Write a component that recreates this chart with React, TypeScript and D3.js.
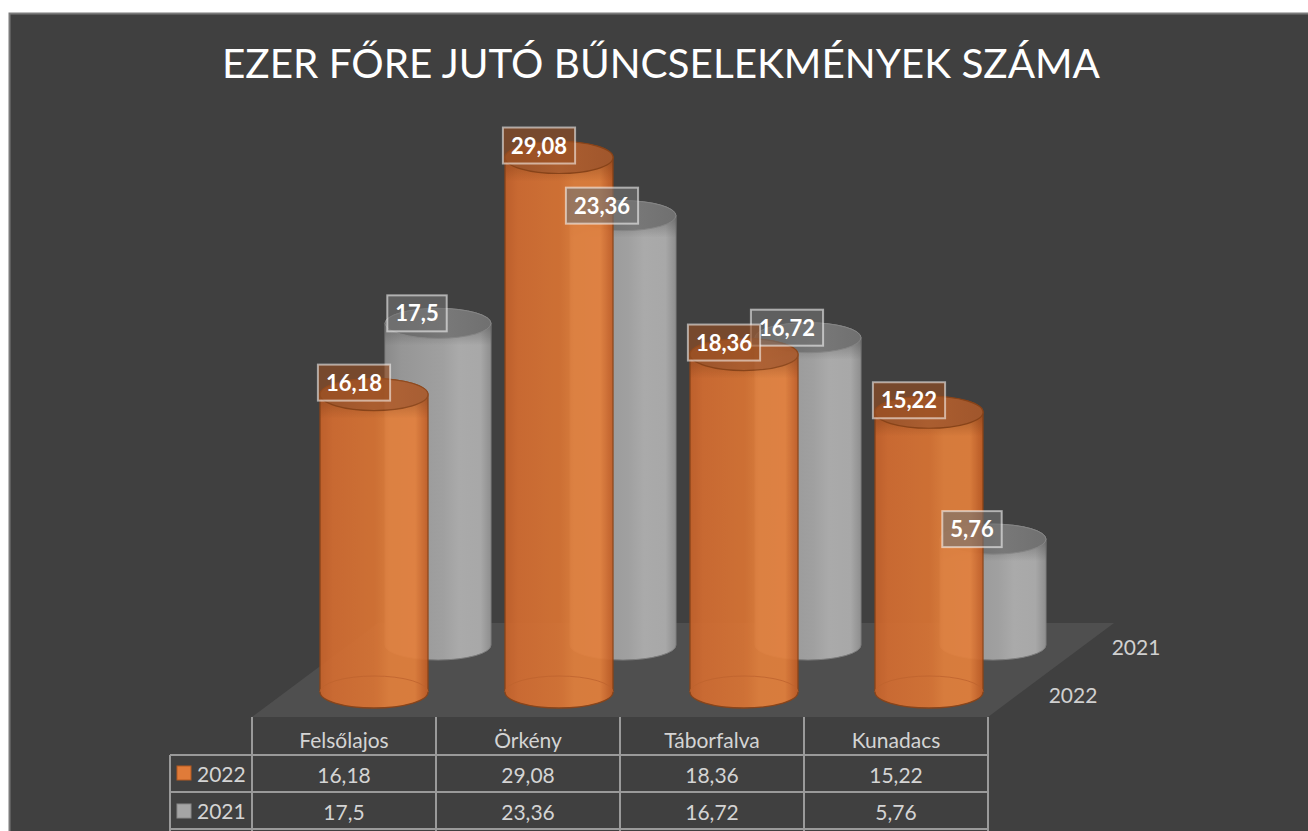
import React from "react";
import * as d3 from "d3";

const categories = ["Felsőlajos", "Örkény", "Táborfalva", "Kunadacs"];
const series2022 = [16.18, 29.08, 18.36, 15.22];
const series2021 = [17.5, 23.36, 16.72, 5.76];
const seriesNames = ["2022", "2021"];
const title = "EZER FŐRE JUTÓ BŰNCSELEKMÉNYEK SZÁMA";

const fmt = (v: number) => String(v).replace(".", ",");

function measure(text: string, font: string): number {
  if (typeof document === "undefined") return text.length * 12;
  const c = document.createElement("canvas");
  const ctx = c.getContext("2d");
  if (!ctx) return text.length * 12;
  ctx.font = font;
  return ctx.measureText(text).width;
}

const W = 1308;
const H = 831;

export default function App() {
  const xFront = d3.scalePoint<string>().domain(categories).range([374, 929]);
  const xCol = d3.scaleBand<string>().domain(categories).range([252, 988]);
  const yVal = d3.scaleLinear().domain([0, 30]).range([0, 551.4]);

  const depth = { dx: 64, dy: -47 };
  const frontBase = 692;
  const backBase = frontBase + depth.dy;

  const floor = [
    [252, 717],
    [988, 717],
    [1114, 623],
    [378, 623],
  ];

  const cyl = (cx: number, base: number, h: number, rx: number, ry: number) => {
    const t = base - h;
    return {
      body: `M${cx - rx},${t} L${cx - rx},${base} A${rx},${ry} 0 0 0 ${cx + rx},${base} L${cx + rx},${t} A${rx},${ry} 0 0 0 ${cx - rx},${t} Z`,
      backArc: `M${cx - rx},${base} A${rx},${ry} 0 0 1 ${cx + rx},${base}`,
      top: t,
    };
  };

  const labelFont = "bold 22px Lato";
  const labels: { x: number; y: number; text: string; kind: string }[] = [];

  const back = categories.map((c, i) => {
    const cx = (xFront(c) as number) + depth.dx;
    const g = cyl(cx, backBase, yVal(series2021[i]), 53, 15);
    labels.push({ x: cx - 21, y: g.top - 10, text: fmt(series2021[i]), kind: "g" });
    return (
      <g key={"b" + c}>
        <path d={g.body} fill="url(#grayBody)" stroke="#7e7e7e" strokeWidth={1} />
        <rect x={cx - 53} y={g.top} width={106} height={22} fill="url(#grayShadow)" />
        <ellipse cx={cx} cy={g.top} rx={53} ry={15} fill="url(#grayTop)" stroke="#858585" strokeWidth={1} />
      </g>
    );
  });

  const front = categories.map((c, i) => {
    const cx = xFront(c) as number;
    const g = cyl(cx, frontBase, yVal(series2022[i]), 54, 16);
    labels.push({ x: cx - 20, y: g.top - 12, text: fmt(series2022[i]), kind: "o" });
    return (
      <g key={"f" + c} opacity={0.92}>
        <path d={g.body} fill="url(#orangeBody)" stroke="#8e4416" strokeWidth={1.3} />
        <path d={g.backArc} fill="none" stroke="#c8652c" strokeWidth={1} opacity={0.8} />
        <rect x={cx - 54} y={g.top} width={108} height={24} fill="url(#orangeShadow)" />
        <ellipse cx={cx} cy={g.top} rx={54} ry={16} fill="url(#orangeTop)" stroke="#8e4416" strokeWidth={1.2} />
      </g>
    );
  });

  const rowY = [717, 755, 792, 829];
  const tableText = "#d4d4d4";
  const gridColor = "#9a9a9a";

  return (
    <svg
      width={W}
      height={H}
      style={{ position: "absolute", left: 0, top: 0 }}
      xmlns="http://www.w3.org/2000/svg"
    >
      <defs>
        <linearGradient id="orangeBody" x1="0" x2="1" y1="0" y2="0">
          <stop offset="0" stopColor="#c8632b" />
          <stop offset="0.12" stopColor="#d46d31" />
          <stop offset="0.5" stopColor="#d97434" />
          <stop offset="0.64" stopColor="#e3803c" />
          <stop offset="0.88" stopColor="#e4803c" />
          <stop offset="1" stopColor="#c25c24" />
        </linearGradient>
        <linearGradient id="orangeTop" x1="0" x2="1" y1="0" y2="0">
          <stop offset="0" stopColor="#a2562a" />
          <stop offset="0.5" stopColor="#b4612f" />
          <stop offset="1" stopColor="#a9592b" />
        </linearGradient>
        <linearGradient id="orangeShadow" x1="0" x2="0" y1="0" y2="1">
          <stop offset="0" stopColor="#7a3a14" stopOpacity="0.5" />
          <stop offset="1" stopColor="#7a3a14" stopOpacity="0" />
        </linearGradient>
        <linearGradient id="grayBody" x1="0" x2="1" y1="0" y2="0">
          <stop offset="0" stopColor="#8a8a8a" />
          <stop offset="0.15" stopColor="#969696" />
          <stop offset="0.55" stopColor="#a0a0a0" />
          <stop offset="0.7" stopColor="#aaaaaa" />
          <stop offset="0.9" stopColor="#a8a8a8" />
          <stop offset="1" stopColor="#8e8e8e" />
        </linearGradient>
        <linearGradient id="grayTop" x1="0" x2="1" y1="0" y2="0">
          <stop offset="0" stopColor="#686868" />
          <stop offset="0.6" stopColor="#787878" />
          <stop offset="1" stopColor="#707070" />
        </linearGradient>
        <linearGradient id="grayShadow" x1="0" x2="0" y1="0" y2="1">
          <stop offset="0" stopColor="#444" stopOpacity="0.45" />
          <stop offset="1" stopColor="#444" stopOpacity="0" />
        </linearGradient>
      </defs>

      <rect x={0} y={0} width={W} height={H} fill="#ffffff" />
      <rect x={9} y={13} width={W} height={H} fill="#404040" />
      <path d={`M9.5,${H} L9.5,13.5 L${W},13.5`} fill="none" stroke="#7a7a7a" strokeWidth={2} />

      <text
        x={661}
        y={78}
        textAnchor="middle"
        fill="#ffffff"
        fontFamily="Lato, 'Open Sans', sans-serif"
        fontSize={41}
        textLength={878}
        lengthAdjust="spacingAndGlyphs"
      >
        {title}
      </text>

      <polygon points={floor.map((p) => p.join(",")).join(" ")} fill="#4f4f4f" />

      {back}
      {front}

      {labels.map((l, i) => {
        const tw = measure(l.text, labelFont);
        const bw = tw + 16;
        const bh = 36;
        return (
          <g key={"l" + i}>
            <rect
              x={l.x - bw / 2}
              y={l.y - bh / 2}
              width={bw}
              height={bh}
              fill={l.kind === "o" ? "#9a4f22" : "#727272"}
              fillOpacity={0.62}
              stroke="#ffffff"
              strokeOpacity={0.55}
              strokeWidth={2}
            />
            <text
              x={l.x}
              y={l.y + 8}
              textAnchor="middle"
              fill="#ffffff"
              fontFamily="Lato, sans-serif"
              fontWeight="bold"
              fontSize={22}
            >
              {l.text}
            </text>
          </g>
        );
      })}

      <text x={1136} y={655} textAnchor="middle" fill="#d0d0d0" fontFamily="Lato, sans-serif" fontSize={21}>
        {seriesNames[1]}
      </text>
      <text x={1073} y={703} textAnchor="middle" fill="#d0d0d0" fontFamily="Lato, sans-serif" fontSize={21}>
        {seriesNames[0]}
      </text>

      <g fontFamily="Lato, sans-serif" fontSize={21} fill={tableText}>
        {categories.map((c) => (
          <line
            key={"v" + c}
            x1={xCol(c) as number}
            x2={xCol(c) as number}
            y1={717}
            y2={H}
            stroke={gridColor}
            strokeWidth={2}
          />
        ))}
        <line x1={988} x2={988} y1={717} y2={H} stroke={gridColor} strokeWidth={2} />
        <line x1={170} x2={170} y1={755} y2={H} stroke={gridColor} strokeWidth={2} />
        {rowY.slice(1).map((y) => (
          <line key={"h" + y} x1={170} x2={988} y1={y} y2={y} stroke={gridColor} strokeWidth={2} />
        ))}
        {categories.map((c, i) => {
          const cx = (xCol(c) as number) + xCol.bandwidth() / 2;
          return (
            <g key={"t" + c}>
              <text x={cx} y={748} textAnchor="middle">
                {c}
              </text>
              <text x={cx} y={783} textAnchor="middle">
                {fmt(series2022[i])}
              </text>
              <text x={cx} y={820} textAnchor="middle">
                {fmt(series2021[i])}
              </text>
            </g>
          );
        })}
        <rect x={177} y={766} width={14} height={14} fill="#e07b39" stroke="#b65a20" strokeWidth={1} />
        <text x={197} y={782}>
          {seriesNames[0]}
        </text>
        <rect x={177} y={804} width={14} height={14} fill="#a5a5a5" stroke="#8a8a8a" strokeWidth={1} />
        <text x={197} y={819}>
          {seriesNames[1]}
        </text>
      </g>
    </svg>
  );
}
